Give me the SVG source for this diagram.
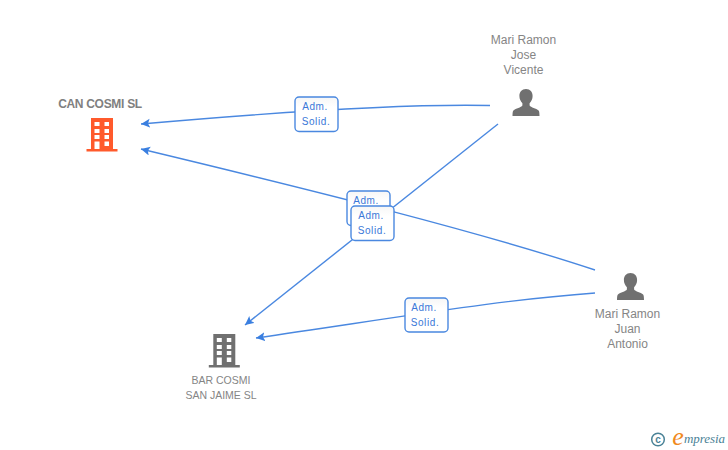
<svg xmlns="http://www.w3.org/2000/svg" width="728" height="450" viewBox="0 0 728 450">
<style>
text{font-family:"Liberation Sans",Arial,sans-serif;text-anchor:middle}
.n{font-size:12px;fill:#858585}
.s{font-size:10.5px;fill:#858585}
.b{font-size:12px;fill:#808080;font-weight:bold;letter-spacing:-.3px}
.e{fill:none;stroke:#4a88e0;stroke-width:1.4}
.lb rect{fill:url(#g);stroke:#4a88e0;stroke-width:1.4}
.lb text{font-size:10px;fill:#3a78d8;letter-spacing:.6px}
</style>
<defs>
<linearGradient id="g" x1="0" y1="0" x2="0" y2="1"><stop offset="0" stop-color="#f6f6f6"/><stop offset=".3" stop-color="#fff"/></linearGradient>
<marker id="a" markerWidth="10" markerHeight="10" refX="9" refY="4.500" orient="auto" markerUnits="userSpaceOnUse"><path d="M9 4.500L0 0L2 4.500L0 9Z" fill="#3a7fe0"/></marker>
<path id="person" d="M0 0c-4.200 0-6.600 3-6.600 7c0 3 1.300 5.500 3 7.200v2.300c-1.200 2-6.600 2.800-9 5c-.7.800-.9 3-.9 5.500h27c0-2.500-.2-4.700-.9-5.500c-2.400-2.200-7.800-3-9-5v-2.300c1.700-1.700 3-4.200 3-7.200c0-4-2.400-7-6.600-7z" fill="#707070"/>
<path id="bld" fill-rule="evenodd" d="M-11 0h22v31h4.500v2.500h-31v-2.500h4.500zM-7.500 4v4h5v-4zM2.500 4v4h4.500v-4zM-7.500 11v4h5v-4zM2.500 11v4h4.500v-4zM-7.500 17v4h5v-4zM2.500 17v4h4.500v-4zM-7.500 23.500v7.500h5v-7.500zM2.500 23.500v4.500h4.500v-4.500z"/>
</defs>
<g id="connectors">
<path class="e" d="M490 105.500C420 104 300 110 141 124" marker-end="url(#a)"/>
<path class="e" d="M595 270C480 232 320 192 141 149" marker-end="url(#a)"/>
<path class="e" d="M498 124L245 325" marker-end="url(#a)"/>
<path class="e" d="M595 293C500 300 420 314 256 338" marker-end="url(#a)"/>
</g>
<g id="can-cosmi"><text class="b" x="100" y="108">CAN COSMI SL</text><use href="#bld" x="102" y="118" fill="#ff5a2c"/></g>
<g id="bar-cosmi"><use href="#bld" x="224.300" y="334" fill="#707070"/><text class="s" x="221" y="384">BAR COSMI</text><text class="s" x="221" y="399">SAN JAIME SL</text></g>
<g id="jose"><text class="n" x="523.500" y="44">Mari Ramon</text><text class="n" x="523.500" y="59">Jose</text><text class="n" x="523.500" y="74">Vicente</text><use href="#person" x="526" y="89"/></g>
<g id="juan"><use href="#person" x="630.500" y="273"/><text class="n" x="627.500" y="318">Mari Ramon</text><text class="n" x="627.500" y="333">Juan</text><text class="n" x="627.500" y="348">Antonio</text></g>
<g id="labels">
<g class="lb"><rect x="295" y="97" width="43" height="34.500" rx="4"/><text x="315" y="110">Adm.</text><text x="316" y="125">Solid.</text></g>
<g class="lb"><rect x="347" y="191" width="43" height="34.500" rx="4"/><text x="366" y="204">Adm.</text></g>
<g class="lb"><rect x="351" y="206" width="43" height="34.500" rx="4"/><text x="371" y="219">Adm.</text><text x="372" y="234">Solid.</text></g>
<g class="lb"><rect x="405" y="298" width="43" height="34" rx="4"/><text x="424" y="311">Adm.</text><text x="425" y="326">Solid.</text></g>
</g>
<g id="logo"><circle cx="658" cy="439.500" r="6.300" fill="none" stroke="#4a8296" stroke-width="1.500"/><text x="658" y="443" style="font-size:10px;fill:#4a8296;font-weight:bold">c</text><text x="678" y="445" style="font-size:26px;fill:#f08a1e;font-family:'Liberation Serif',serif;font-style:italic">e</text><text x="704.500" y="442.500" textLength="41" style="font-size:13px;fill:#4a8296;font-style:italic;font-family:'Liberation Serif',serif">mpresia</text></g>
</svg>
